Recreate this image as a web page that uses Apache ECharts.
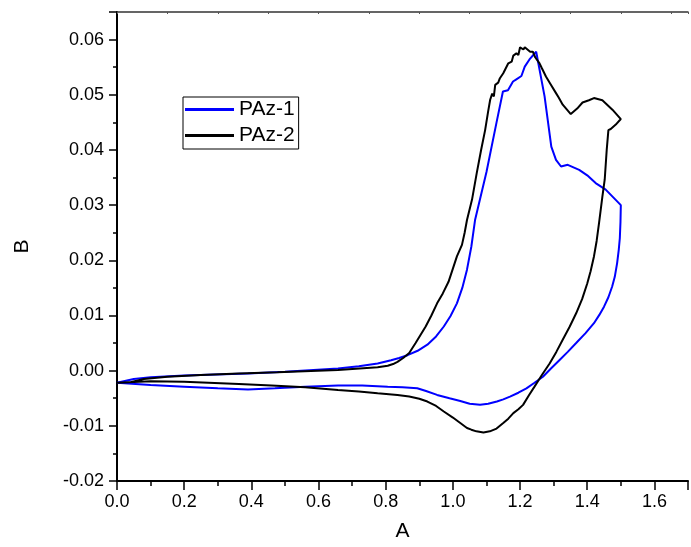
<!DOCTYPE html>
<html>
<head>
<meta charset="utf-8">
<script src="https://cdn.jsdelivr.net/npm/echarts@6/dist/echarts.min.js"></script>
<style>html,body{margin:0;padding:0;background:#fff;}#c{width:691px;height:547px;}</style>
</head>
<body>
<div id="c"></div>
<script>
// PAz-1 (blue): forward scan then reverse scan
var paz1X = [0, 0.05, 0.1, 0.2, 0.39, 0.5, 0.658, 0.72, 0.776, 0.816, 0.84, 0.865, 0.895, 0.924, 0.95, 0.973, 0.993, 1.012, 1.028, 1.042, 1.055, 1.066, 1.1, 1.13, 1.149, 1.164, 1.179, 1.189, 1.204, 1.214, 1.228, 1.248, 1.273, 1.293, 1.307, 1.322, 1.342, 1.376, 1.4, 1.425, 1.455, 1.5,
             1.499, 1.497, 1.494, 1.489, 1.482, 1.474, 1.463, 1.45, 1.436, 1.42, 1.395, 1.367, 1.342, 1.317, 1.292, 1.268, 1.243, 1.219, 1.195, 1.17, 1.15, 1.131, 1.105, 1.081, 1.05, 1.022, 0.99, 0.953, 0.92, 0.894, 0.85, 0.806, 0.73, 0.658, 0.56, 0.47, 0.39, 0.3, 0.2, 0.1, 0];
var paz1Y = [-0.0022, -0.0015, -0.0012, -0.0009, -0.0005, -0.0002, 0.0004, 0.0008, 0.0013, 0.0019, 0.0023, 0.0028, 0.0036, 0.0047, 0.0062, 0.0080, 0.0099, 0.0122, 0.0150, 0.0183, 0.0225, 0.0273, 0.0360, 0.0450, 0.0506, 0.0508, 0.0524, 0.0528, 0.0534, 0.0551, 0.0564, 0.0578, 0.0497, 0.0406, 0.0382, 0.0370, 0.0373, 0.0364, 0.0354, 0.0340, 0.0328, 0.0300,
             0.0270, 0.0240, 0.0220, 0.0195, 0.0170, 0.0152, 0.0133, 0.0116, 0.0101, 0.0086, 0.0068, 0.0050, 0.0034, 0.0019, 0.0004, -0.0011, -0.0022, -0.0032, -0.0040, -0.0047, -0.0052, -0.0056, -0.0060, -0.0062, -0.0060, -0.0055, -0.0050, -0.0044, -0.0037, -0.0032, -0.0030, -0.0029, -0.0027, -0.0027, -0.0029, -0.0032, -0.0034, -0.0032, -0.0029, -0.0026, -0.0022];

// PAz-2 (black): forward scan then reverse scan
var paz2X = [0, 0.04, 0.08, 0.15, 0.25, 0.363, 0.478, 0.481, 0.658, 0.776, 0.806, 0.822, 0.835, 0.852, 0.87, 0.889, 0.904, 0.919, 0.936, 0.953, 0.97, 0.987, 1.0, 1.012, 1.027, 1.035, 1.042, 1.057, 1.071, 1.084, 1.096, 1.105, 1.111, 1.117, 1.122, 1.126, 1.135, 1.14, 1.15, 1.155, 1.165, 1.175, 1.18, 1.189, 1.195, 1.2, 1.204, 1.21, 1.214, 1.219, 1.23, 1.238, 1.245, 1.258, 1.265, 1.277, 1.29, 1.307, 1.315, 1.327, 1.351, 1.37, 1.386, 1.405, 1.42, 1.445, 1.475, 1.5,
             1.485, 1.47, 1.463, 1.458, 1.452, 1.445, 1.435, 1.428, 1.42, 1.41, 1.4, 1.385, 1.367, 1.348, 1.327, 1.308, 1.288, 1.265, 1.243, 1.226, 1.209, 1.195, 1.18, 1.165, 1.15, 1.13, 1.11, 1.091, 1.07, 1.055, 1.042, 1.02, 1.0, 0.973, 0.95, 0.924, 0.9, 0.87, 0.835, 0.776, 0.72, 0.658, 0.56, 0.46, 0.363, 0.2, 0.1, 0];
var paz2Y = [-0.0022, -0.0021, -0.0015, -0.0011, -0.0008, -0.0005, -0.0003, 0.0000, 0.0001, 0.0006, 0.0009, 0.0012, 0.0016, 0.0023, 0.0032, 0.0050, 0.0065, 0.0080, 0.0100, 0.0122, 0.0140, 0.0161, 0.0185, 0.0207, 0.0228, 0.0250, 0.0273, 0.0310, 0.0358, 0.0400, 0.0436, 0.0470, 0.0491, 0.0502, 0.0497, 0.0518, 0.0522, 0.0530, 0.0539, 0.0536, 0.0557, 0.0560, 0.0571, 0.0575, 0.0572, 0.0586, 0.0587, 0.0582, 0.0586, 0.0583, 0.0578, 0.0578, 0.0568, 0.0557, 0.0548, 0.0533, 0.0520, 0.0503, 0.0495, 0.0482, 0.0465, 0.0475, 0.0486, 0.0490, 0.0494, 0.0490, 0.0473, 0.0456,
             0.0446, 0.0438, 0.0436, 0.0400, 0.0346, 0.0315, 0.0267, 0.0235, 0.0207, 0.0180, 0.0158, 0.0130, 0.0104, 0.0080, 0.0056, 0.0034, 0.0013, -0.0008, -0.0029, -0.0045, -0.0062, -0.0070, -0.0077, -0.0087, -0.0095, -0.0105, -0.0110, -0.0112, -0.0110, -0.0107, -0.0104, -0.0094, -0.0085, -0.0074, -0.0064, -0.0056, -0.0051, -0.0047, -0.0044, -0.0041, -0.0038, -0.0035, -0.0030, -0.0027, -0.0024, -0.0020, -0.0019, -0.0022];

var seriesNames = ['PAz-1', 'PAz-2'];
var xName = 'A', yName = 'B';

function zip(xs, ys) { return xs.map(function (x, i) { return [x, ys[i]]; }); }

var FONT = 'Liberation Sans, Arial, sans-serif';
var chart = echarts.init(document.getElementById('c'), null, { renderer: 'canvas' });
chart.setOption({
  animation: false,
  backgroundColor: '#fff',
  grid: { left: 117, top: 12, width: 576, height: 469, containLabel: false },
  legend: {
    left: 183, top: 97, orient: 'vertical',
    data: seriesNames,
    borderColor: '#000', borderWidth: 1, borderRadius: 0,
    padding: [2, 4, 3, 2], itemGap: 5,
    itemWidth: 49, itemHeight: 3, icon: 'rect',
    textStyle: { fontFamily: FONT, fontSize: 21, color: '#000' }
  },
  xAxis: [{
    type: 'value', min: 0, max: 1.7, interval: 0.2,
    position: 'bottom',
    name: xName, nameLocation: 'middle', nameGap: 40,
    nameTextStyle: { fontFamily: FONT, fontSize: 21, color: '#000' },
    axisLine: { onZero: false, lineStyle: { color: '#000', width: 2 } },
    axisTick: { inside: false, length: 9, lineStyle: { color: '#000', width: 1.5 } },
    minorTick: { show: true, splitNumber: 2, length: 5, lineStyle: { color: '#000', width: 1.5 } },
    splitLine: { show: false },
    axisLabel: { margin: 12, fontFamily: FONT, fontSize: 18, color: '#000',
      formatter: function (v) { return Math.abs(v * 5 - Math.round(v * 5)) < 1e-6 ? v.toFixed(1) : ''; } }
  }, {
    type: 'value', min: 0, max: 1.7, interval: 0.15,
    position: 'top',
    axisLine: { onZero: false, lineStyle: { color: '#333', width: 1.5 } },
    axisTick: { inside: true, length: 2, lineStyle: { color: '#555' } },
    axisLabel: { show: false },
    splitLine: { show: false }
  }],
  yAxis: {
    type: 'value', min: -0.02, max: 0.065, interval: 0.01,
    name: yName, nameLocation: 'middle', nameGap: 84,
    nameTextStyle: { fontFamily: FONT, fontSize: 21, color: '#000' },
    axisLine: { onZero: false, lineStyle: { color: '#000', width: 2 } },
    axisTick: { inside: false, length: 8, lineStyle: { color: '#000', width: 1.5 } },
    minorTick: { show: true, splitNumber: 2, length: 4, lineStyle: { color: '#000', width: 1.5 } },
    splitLine: { show: false },
    axisLabel: { margin: 13, fontFamily: FONT, fontSize: 18, color: '#000',
      formatter: function (v) {
        if (Math.abs(v * 100 - Math.round(v * 100)) > 1e-6) return '';
        if (Math.abs(v) < 1e-9) return '0.00';
        return v.toFixed(2);
      } }
  },
  series: [{
    name: seriesNames[0], type: 'line', data: zip(paz1X, paz1Y),
    showSymbol: false, symbol: 'none', smooth: false,
    lineStyle: { color: '#0000ff', width: 2 }, itemStyle: { color: '#0000ff' }
  }, {
    name: seriesNames[1], type: 'line', data: zip(paz2X, paz2Y),
    showSymbol: false, symbol: 'none', smooth: false,
    lineStyle: { color: '#000000', width: 2 }, itemStyle: { color: '#000000' }
  }]
});
</script>
</body>
</html>
